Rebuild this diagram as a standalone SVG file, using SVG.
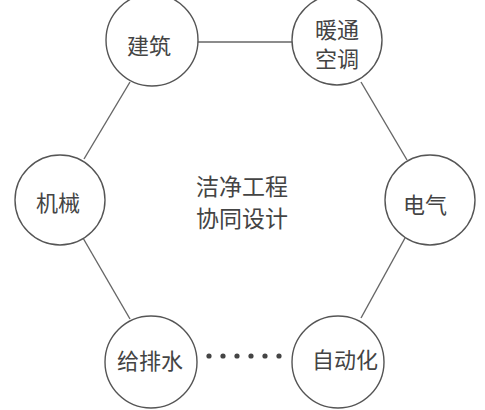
<svg xmlns="http://www.w3.org/2000/svg" width="485" height="410" viewBox="0 0 485 410">
<style>
.node circle{fill:#fff;stroke:#555;stroke-width:1.4}
text{font-family:"Noto Sans CJK SC","Noto Sans CJK JP",sans-serif;font-size:22px;fill:#444;text-anchor:middle;dominant-baseline:central}
.big{font-size:23px}
.conn line{stroke:#666;stroke-width:1.4}
.conn circle{fill:#444}
</style>
<rect width="485" height="410" fill="#fff"/>
<g class="conn" id="connectors">
<line x1="197" y1="42" x2="292" y2="42"/>
<line x1="130" y1="82" x2="84" y2="159"/>
<line x1="361" y1="82" x2="407" y2="160"/>
<line x1="83" y1="238" x2="130" y2="319"/>
<line x1="405" y1="238" x2="361" y2="318"/>
<circle cx="209" cy="356" r="2.6"/>
<circle cx="223" cy="356" r="2.6"/>
<circle cx="237" cy="356" r="2.6"/>
<circle cx="251" cy="356" r="2.6"/>
<circle cx="265" cy="356" r="2.6"/>
<circle cx="279" cy="356" r="2.6"/>
</g>
<g class="node" id="n-jianzhu"><circle cx="152" cy="40" r="46"/><text x="149" y="44">建筑</text></g>
<g class="node" id="n-nuantong"><circle cx="337" cy="40" r="45"/><text x="337" y="28">暖通</text><text x="337" y="57">空调</text></g>
<g class="node" id="n-dianqi"><circle cx="430" cy="200" r="45"/><text x="425" y="203">电气</text></g>
<g class="node" id="n-jixie"><circle cx="60" cy="200" r="45"/><text x="58" y="201">机械</text></g>
<g class="node" id="n-geipaishui"><circle cx="151" cy="362" r="46"/><text x="150" y="359">给排水</text></g>
<g class="node" id="n-zidonghua"><circle cx="338" cy="362" r="46"/><text x="345" y="358">自动化</text></g>
<g id="center"><text class="big" x="242" y="185">洁净工程</text><text class="big" x="242" y="217">协同设计</text></g>
</svg>
